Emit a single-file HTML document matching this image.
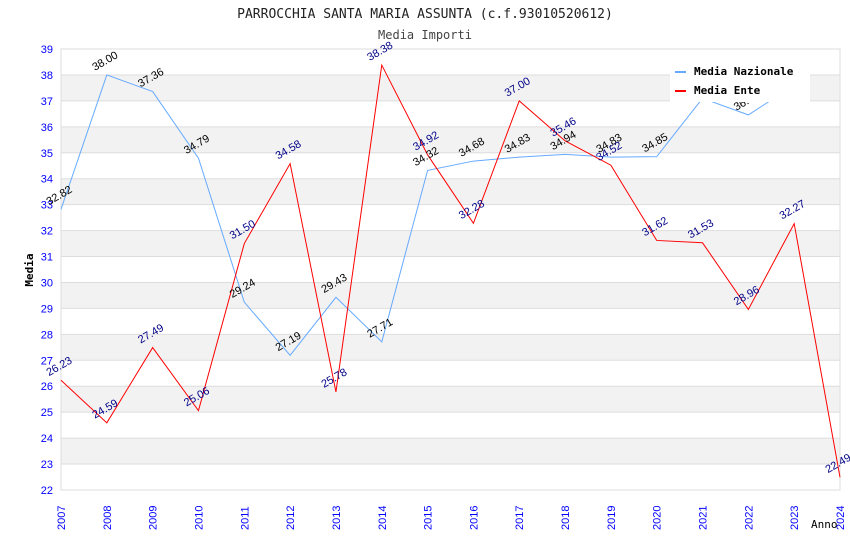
<!DOCTYPE html>
<html><head><meta charset="utf-8"><style>
body{margin:0;background:#fff}
svg{font-family:"DejaVu Sans Mono","Liberation Mono",monospace}
</style></head><body>
<svg id="c" width="850" height="550" xmlns="http://www.w3.org/2000/svg">
<text x="425" y="18" text-anchor="middle" font-size="13" fill="#222">PARROCCHIA SANTA MARIA ASSUNTA (c.f.93010520612)</text>
<text x="425" y="39" text-anchor="middle" font-size="12" fill="#444">Media Importi</text>
<g id="grid"></g><g id="axes"></g><g id="series"></g><g id="labels"></g>
<g>
<rect x="670" y="58" width="140" height="44" fill="#fff"/>
<line x1="675" y1="72" x2="686" y2="72" stroke="#6af" stroke-width="2"/>
<text x="694" y="75" font-size="11" font-weight="bold">Media Nazionale</text>
<line x1="675" y1="91" x2="686" y2="91" stroke="#f00" stroke-width="2"/>
<text x="694" y="94" font-size="11" font-weight="bold">Media Ente</text>
</g>
<text x="33" y="270" transform="rotate(-90 33 270)" text-anchor="middle" font-size="11" font-weight="bold">Media</text>
<text x="811" y="528" font-size="11">Anno</text>
</svg>
<script>
const years=[2007,2008,2009,2010,2011,2012,2013,2014,2015,2016,2017,2018,2019,2020,2021,2022,2023,2024];
const nazionale=[32.82,38.00,37.36,34.79,29.24,27.19,29.43,27.71,34.32,34.68,34.83,34.94,34.83,34.85,37.10,36.46,37.60,null];
const ente=[26.23,24.59,27.49,25.06,31.50,34.58,25.78,38.38,34.92,32.28,37.00,35.46,34.52,31.62,31.53,28.96,32.27,22.49];
const yTicks=[22,23,24,25,26,27,28,29,30,31,32,33,34,35,36,37,38,39];
const NS="http://www.w3.org/2000/svg";
const L=61,R=840,T=49,B=490,ymin=22,ymax=39;
const x=i=>L+(R-L)*i/(years.length-1);
const y=v=>B-(v-ymin)/(ymax-ymin)*(B-T);
function mk(t,a,p){const e=document.createElementNS(NS,t);for(const k in a)e.setAttribute(k,a[k]);p.appendChild(e);return e;}
const grid=document.getElementById('grid'),axes=document.getElementById('axes'),ser=document.getElementById('series'),lab=document.getElementById('labels');
for(let v=ymin;v<ymax;v++){if(v%2===1){const r=mk('rect',{x:L,y:y(v+1),width:R-L,height:y(v)-y(v+1),fill:'#f2f2f2'},grid);

}}
yTicks.forEach(v=>{const l=mk('line',{x1:L,x2:R,y1:y(v),y2:y(v),stroke:'#ddd'},grid);


const t=mk('text',{x:L-8,y:y(v)+4,'text-anchor':'end','font-size':11,fill:'#00f','font-family':'Liberation Sans, sans-serif'},axes);t.textContent=v;

});
mk('rect',{x:L,y:T,width:R-L,height:B-T,fill:'none',stroke:'#ddd'},axes);
years.forEach((yr,i)=>{const t=mk('text',{x:0,y:0,transform:`translate(${x(i)+4},${B+40}) rotate(-90)`,'font-size':11,fill:'#00f','font-family':'Liberation Sans, sans-serif'},axes);t.textContent=yr;

});
function series(d,col,lc,name){const pts=[];d.forEach((v,i)=>{if(v!==null)pts.push(x(i)+','+y(v));});
const p=mk('polyline',{points:pts.join(' '),fill:'none',stroke:col,'stroke-width':1},ser);


d.forEach((v,i)=>{if(v===null)return;const t=mk('text',{x:0,y:0,transform:`translate(${x(i)-12},${y(v)-4}) rotate(-30)`,'font-size':11,fill:lc,'font-family':'Liberation Sans, sans-serif'},lab);t.textContent=v.toFixed(2);

});}
series(nazionale,'#6af','#000','nazionale');
series(ente,'#f00','#008','ente');
</script>
</body></html>
